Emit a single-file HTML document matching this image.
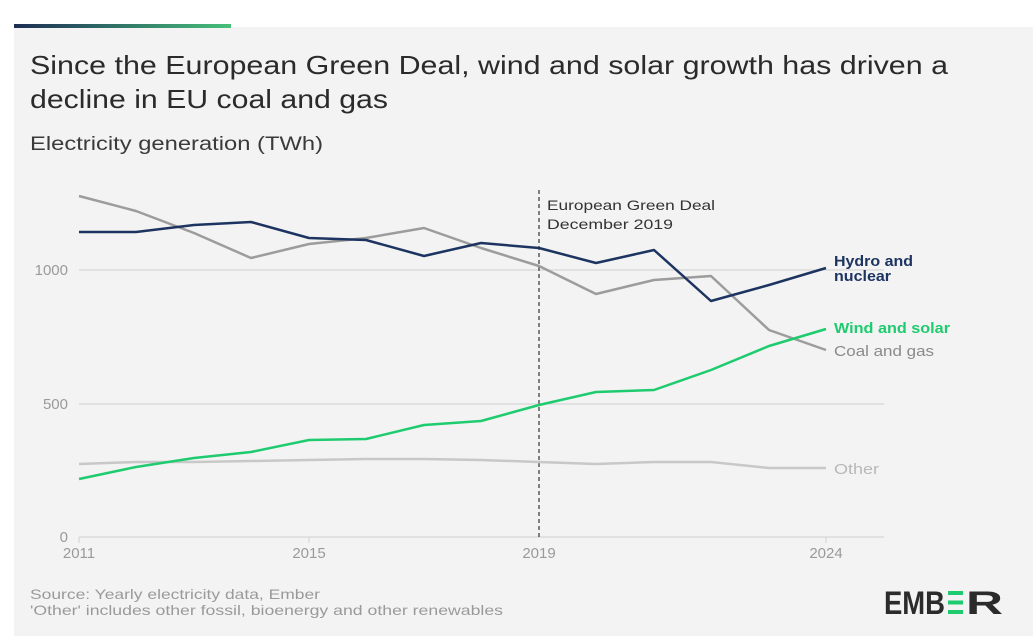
<!DOCTYPE html>
<html><head><meta charset="utf-8"><style>
body{margin:0;background:#fff;width:1033px;height:639px;overflow:hidden;font-family:"Liberation Sans",sans-serif}
</style></head><body>
<svg width="1033" height="639" viewBox="0 0 1033 639" xmlns="http://www.w3.org/2000/svg" font-family="Liberation Sans, sans-serif">
<defs><linearGradient id="g" x1="0" x2="1"><stop offset="0" stop-color="#1d2d55"/><stop offset="1" stop-color="#46c07a"/></linearGradient></defs>
<rect x="14" y="27" width="1019" height="609" fill="#f3f3f3"/>
<rect x="14" y="24" width="217" height="4" fill="url(#g)"/>
<text x="30" y="74" font-size="26" fill="#2b2b2b" textLength="918" lengthAdjust="spacingAndGlyphs">Since the European Green Deal, wind and solar growth has driven a</text>
<text x="30" y="108" font-size="26" fill="#2b2b2b" textLength="358" lengthAdjust="spacingAndGlyphs">decline in EU coal and gas</text>
<text x="30" y="150" font-size="19" fill="#3a3a3a" textLength="293" lengthAdjust="spacingAndGlyphs">Electricity generation (TWh)</text>
<g stroke="#d6d6d6" stroke-width="1.2">
<line x1="79" y1="270" x2="884" y2="270"/><line x1="79" y1="404" x2="884" y2="404"/><line x1="79" y1="537" x2="884" y2="537"/>
<line x1="79" y1="537" x2="79" y2="543"/><line x1="309" y1="537" x2="309" y2="543"/><line x1="826" y1="537" x2="826" y2="543"/>
</g>
<g font-size="15" fill="#9a9a9a">
<text x="68" y="275" text-anchor="end">1000</text><text x="68" y="409" text-anchor="end">500</text><text x="68" y="542" text-anchor="end">0</text>
<text x="79" y="558" text-anchor="middle">2011</text><text x="309" y="558" text-anchor="middle">2015</text><text x="539" y="558" text-anchor="middle">2019</text><text x="826" y="558" text-anchor="middle">2024</text>
</g>
<line x1="539" y1="190" x2="539" y2="540" stroke="#333" stroke-width="1.2" stroke-dasharray="4,3"/>
<text x="547" y="210" font-size="14" fill="#333" textLength="168" lengthAdjust="spacingAndGlyphs">European Green Deal</text>
<text x="547" y="229" font-size="14" fill="#333" textLength="126" lengthAdjust="spacingAndGlyphs">December 2019</text>
<g fill="none" stroke-width="2.5" stroke-linejoin="round">
<polyline stroke="#c8c8c8" points="79,464 136,462 194,462 251,461 309,460 366,459 424,459 481,460 539,462 596,464 654,462 711,462 769,468 826,468"/>
<polyline stroke="#9c9c9c" points="79,196 136,211 194,233 251,258 309,244 366,238 424,228 481,248 539,266 596,294 654,280 711,276 769,330 826,350"/>
<polyline stroke="#1d3461" points="79,232 136,232 194,225 251,222 309,238 366,240 424,256 481,243 539,248 596,263 654,250 711,301 769,285 826,268"/>
<polyline stroke="#1ecb6e" points="79,479 136,467 194,458 251,452 309,440 366,439 424,425 481,421 539,405 596,392 654,390 711,370 769,346 826,329"/>
</g>
<g font-size="15" font-weight="bold">
<text x="834" y="266" fill="#1d3461" textLength="79" lengthAdjust="spacingAndGlyphs">Hydro and</text>
<text x="834" y="281" fill="#1d3461" textLength="57" lengthAdjust="spacingAndGlyphs">nuclear</text>
<text x="834" y="333" fill="#1ecb6e" textLength="116" lengthAdjust="spacingAndGlyphs">Wind and solar</text>
</g>
<text x="834" y="356" font-size="15" fill="#8a8a8a" textLength="100" lengthAdjust="spacingAndGlyphs">Coal and gas</text>
<text x="834" y="474" font-size="15" fill="#b8b8b8" textLength="45" lengthAdjust="spacingAndGlyphs">Other</text>
<text x="30" y="599" font-size="14" fill="#9a9a9a" textLength="290" lengthAdjust="spacingAndGlyphs">Source: Yearly electricity data, Ember</text>
<text x="30" y="615" font-size="14" fill="#9a9a9a" textLength="473" lengthAdjust="spacingAndGlyphs">'Other' includes other fossil, bioenergy and other renewables</text>
<text x="884" y="614" font-size="32" font-weight="bold" fill="#2b2b2b" textLength="61" lengthAdjust="spacingAndGlyphs">EMB</text>
<g fill="#1ecb6e"><rect x="948" y="591" width="15" height="4"/><rect x="948" y="600.5" width="15" height="4"/><rect x="948" y="610" width="15" height="4"/></g>
<text x="966" y="614" font-size="32" font-weight="bold" fill="#2b2b2b" textLength="37" lengthAdjust="spacingAndGlyphs">R</text>
</svg>
</body></html>
